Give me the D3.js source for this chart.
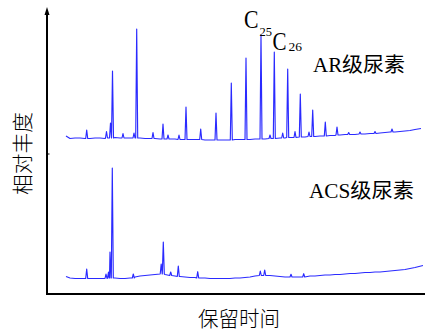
<!DOCTYPE html>
<html><head><meta charset="utf-8">
<script src="https://cdn.jsdelivr.net/npm/d3@7"></script>
<style>
html,body{margin:0;padding:0;background:#fff;}
svg{display:block;}
</style></head>
<body>
<svg id="c" width="425" height="331"></svg>
<script>
// retention time (min), arbitrary abundance units
const arBaseline = [
 [1.9,4],[2.3,1.5],[2.8,2],[3.3,2],[3.8,1.5],[4.3,1.5],[4.8,2],[5.3,2],[5.8,1.5],[6.3,2],[6.8,2.5],[7.3,2],[7.8,2],[8.3,2],[8.8,2],[9.3,2],[9.8,1.5],[10.3,1.5],[10.8,1.5],[11.3,1],[11.8,1],[12.3,1],[12.8,1],[13.3,0.5],[13.8,0.5],[14.3,0.5],[14.8,0.5],[15.3,0.5],[15.8,0],[16.3,0],[16.8,0],[17.3,0],[17.8,0],[18.3,0],[18.8,0.5],[19.3,0.5],[19.8,0.5],[20.3,0.5],[20.8,1],[21.3,1],[21.8,1],[22.3,1.5],[22.8,1.5],[23.3,2],[23.8,2],[24.3,2.5],[24.8,2.5],[25.3,3],[25.8,3],[26.3,3.5],[26.8,3.5],[27.3,4],[27.8,4],[28.3,4.5],[28.8,4.5],[29.3,5],[29.8,5.5],[30.3,5.5],[30.8,5.5],[31.3,6],[31.8,6],[32.3,6.5],[32.8,6.5],[33.3,7],[33.8,7.5],[34.3,8],[34.8,8],[35.3,8.5],[35.8,9],[36.3,9.5],[36.8,10.5],[37.4,11.5]
];
// [time, base, top]
const arPeaks = [
 [3.97,1.5,10],[5.95,2,8.5],[6.35,2,17],[6.55,2,69],[7.6,2,6.5],[8.7,2,7],[8.97,2,111],
 [10.6,1.5,7.5],[11.6,1,16],[12.1,1,5],[13.2,0.5,5],[13.9,0.5,33],[15.37,0.5,11],
 [16.9,0,27],[18.43,0,57],[19.9,0.5,82],[21.4,1,105],[22.3,1.5,5],[22.73,1.5,88],
 [23.57,2,7],[24.07,2.5,71],[24.8,2.5,8.5],[25.33,3,46],[26.2,3.5,8],[26.57,3.5,30],
 [27.83,4,18],[29.0,5,13],[30.17,5.5,7.5],[31.3,6,8],[32.8,6.5,8.5],[34.5,8,11]
];
const acsBaseline = [
 [1.9,2.5],[2.3,1],[2.8,0.5],[3.3,0.5],[3.8,0.5],[4.3,0.5],[4.8,0.5],[5.3,0.5],[5.8,0.5],[6.8,1],[7.3,0.5],[7.8,0.5],[8.3,1],[8.8,2],[9.3,3],[9.8,3.5],[10.3,4],[10.8,4.5],[11.3,5],[11.8,4.5],[12.3,3.5],[12.8,3],[13.3,2.5],[13.8,2],[14.3,1.5],[14.8,1.5],[15.3,1],[15.8,1],[16.3,0.5],[16.8,0.5],[17.3,0.5],[17.8,0.5],[18.3,0.5],[18.8,1],[19.3,1],[19.8,1.5],[20.3,2],[20.8,3],[21.3,3.5],[21.8,3.5],[22.3,3.5],[22.8,3],[23.3,2.5],[23.8,2],[24.3,2],[24.8,2],[25.3,2],[25.8,2.5],[26.3,3],[26.8,3],[27.3,3.5],[27.8,4],[28.3,4],[28.8,4.5],[29.3,4.5],[29.8,5],[30.3,5.5],[30.8,5.5],[31.3,6],[31.8,6.5],[32.3,6.5],[32.8,7],[33.3,7],[33.8,7.5],[34.3,8],[34.8,8.5],[35.3,9],[35.8,9.5],[36.3,10.5],[36.8,11.5],[37.6,13.5]
];
const acsPeaks = [
 [3.97,0.5,10],[5.9,0.5,5],[6.15,1,7],[6.3,1,27],[6.53,1,111],[8.63,1,5],
 [11.42,5,15],[11.63,5,37],[12.37,3.5,7],[13.13,2.5,13],[15.07,1,7.3],
 [21.33,3.5,8],[21.77,3.5,9],[24.4,2,4.7],[25.67,2,5.3]
];
const seriesLabels = ["AR级尿素","ACS级尿素"];
const peakLabel = {c1:"C", s1:"25", c2:"C", s2:"26"};
const xTitle = "保留时间";
const yTitle = "相对丰度";

const svg = d3.select("#c");
const x = d3.scaleLinear().domain([0,37.8]).range([47,425]);
const yAR = d3.scaleLinear().domain([0,120]).range([140,20]);
const yACS = d3.scaleLinear().domain([0,120]).range([279,159]);
const W = 0.1;

function buildPoints(base, peaks){
  const pts = [];
  peaks.forEach(p=>{ pts.push([p[0]-W,p[1]],[p[0],p[2]],[p[0]+W,p[1]]); });
  base.forEach(b=>{
    if(!peaks.some(p=>Math.abs(b[0]-p[0])<=W+0.03)) pts.push(b);
  });
  pts.sort((a,b)=>a[0]-b[0]);
  return pts;
}
function drawTrace(base,peaks,y){
  const line = d3.line().x(d=>x(d[0])).y(d=>y(d[1]));
  svg.append("path").attr("d",line(buildPoints(base,peaks)))
    .attr("fill","none").attr("stroke","#2a2aff").attr("stroke-width",1.15)
    .attr("stroke-linejoin","round");
}
drawTrace(arBaseline,arPeaks,yAR);
drawTrace(acsBaseline,acsPeaks,yACS);

// axes
const x0 = x.range()[0], yb = 294;
svg.append("line").attr("x1",x0).attr("x2",x0).attr("y1",yb+1).attr("y2",13)
  .attr("stroke","#000").attr("stroke-width",2);
svg.append("path").attr("d",`M${x0-2.5},15 L${x0},7 L${x0+2.5},15 Z`).attr("fill","#000");
svg.append("line").attr("x1",x0-1).attr("x2",x.range()[1]).attr("y1",yb).attr("y2",yb)
  .attr("stroke","#000").attr("stroke-width",2);
svg.append("line").attr("x1",x0).attr("x2",x0+2.5).attr("y1",154).attr("y2",154)
  .attr("stroke","#000").attr("stroke-width",1);

const serif = "'Liberation Serif','Times New Roman','Noto Sans CJK SC',serif";
const cjk = "'Noto Sans CJK SC',sans-serif";

// peak label
svg.append("text").attr("x",244).attr("y",27.5).attr("font-family",serif).attr("font-size",26)
  .attr("textLength",14.5).attr("lengthAdjust","spacingAndGlyphs").text(peakLabel.c1);
svg.append("text").attr("x",259.5).attr("y",36).attr("font-family",serif).attr("font-size",13)
  .attr("textLength",12.5).attr("lengthAdjust","spacingAndGlyphs").text(peakLabel.s1);
svg.append("text").attr("x",272.5).attr("y",50.3).attr("font-family",serif).attr("font-size",26)
  .attr("textLength",14).attr("lengthAdjust","spacingAndGlyphs").text(peakLabel.c2);
svg.append("text").attr("x",288.5).attr("y",50.8).attr("font-family",serif).attr("font-size",13)
  .attr("textLength",13.5).attr("lengthAdjust","spacingAndGlyphs").text(peakLabel.s2);

// series labels
svg.append("text").attr("x",313).attr("y",72).attr("font-family",serif).attr("font-size",20)
  .attr("textLength",92).attr("lengthAdjust","spacingAndGlyphs").text(seriesLabels[0]);
svg.append("text").attr("x",309).attr("y",197.5).attr("font-family",serif).attr("font-size",20)
  .attr("textLength",105).attr("lengthAdjust","spacingAndGlyphs").text(seriesLabels[1]);

// axis titles
svg.append("text").attr("x",198).attr("y",326).attr("font-family",cjk).attr("font-weight",300)
  .attr("font-size",21).attr("textLength",82).attr("lengthAdjust","spacingAndGlyphs").text(xTitle);
svg.append("text").attr("transform","translate(30,195) rotate(-90)").attr("font-family",cjk).attr("font-weight",300)
  .attr("font-size",21).attr("textLength",83).attr("lengthAdjust","spacingAndGlyphs").text(yTitle);
</script>
</body></html>
